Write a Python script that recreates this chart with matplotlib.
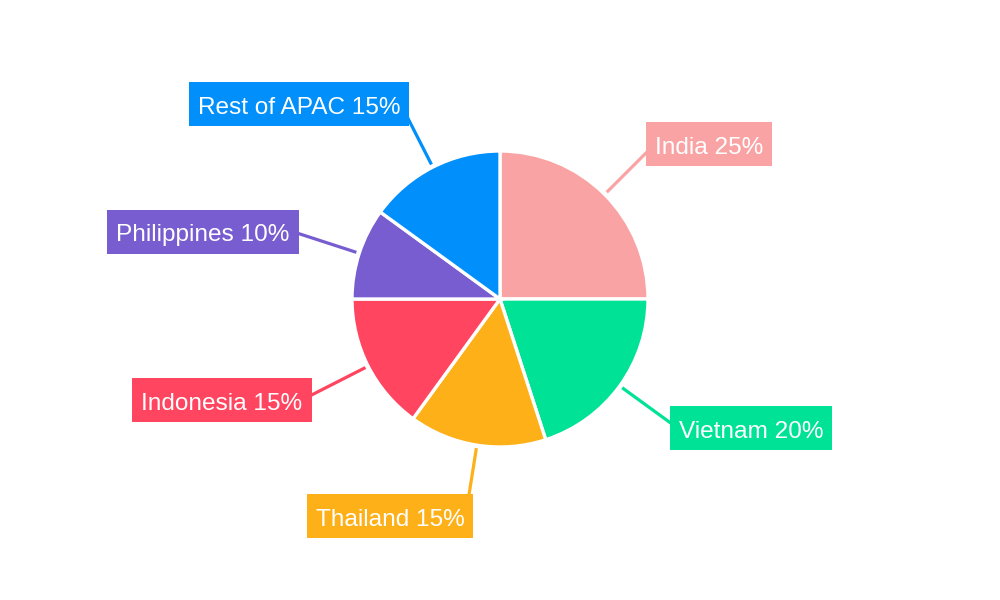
import numpy as np
import matplotlib
matplotlib.use("Agg")
import matplotlib.pyplot as plt
from matplotlib.patches import Rectangle

categories = ["India", "Vietnam", "Thailand", "Indonesia", "Philippines", "Rest of APAC"]
values = [25, 20, 15, 15, 10, 15]
colors = ["#F9A3A4", "#00E396", "#FEB019", "#FF4560", "#775DD0", "#008FFB"]

# layout: label box centres in pixel coordinates (x, y from top)
label_centres = [(709, 144), (751, 428), (390, 516), (222, 400), (203, 232), (299, 104)]

W, H = 1000, 600
fig = plt.figure(figsize=(10, 6), dpi=100)
ax = fig.add_axes([0, 0, 1, 1])
cx, cy, R = 500, H - 299, 148

wedges, _ = ax.pie(values, colors=colors, startangle=90, counterclock=False,
                   center=(cx, cy), radius=R,
                   wedgeprops=dict(edgecolor="white", linewidth=2.4))
ax.set_xlim(0, W)
ax.set_ylim(0, H)
ax.set_aspect("equal")
ax.axis("off")

texts = []
for w, cat, val, col, (lx, ly) in zip(wedges, categories, values, colors, label_centres):
    mid = np.deg2rad((w.theta1 + w.theta2) / 2)
    r0, r1 = 151, 215
    ax.plot([cx + r0 * np.cos(mid), cx + r1 * np.cos(mid)],
            [cy + r0 * np.sin(mid), cy + r1 * np.sin(mid)],
            color=col, lw=2.3, zorder=3, solid_capstyle="butt")
    t = ax.text(lx, H - ly - 1, f"{cat} {val}%", color="white", fontsize=17.6,
                family=["Liberation Sans", "DejaVu Sans"], ha="center", va="center_baseline",
                zorder=6)
    texts.append((t, col, lx, ly))

fig.canvas.draw()
renderer = fig.canvas.get_renderer()
for t, col, lx, ly in texts:
    bb = t.get_window_extent(renderer)
    bw = bb.width + 18
    bh = 44
    ax.add_patch(Rectangle((lx - bw / 2, H - ly - bh / 2), bw, bh, facecolor=col,
                           edgecolor="none", zorder=5))

fig.savefig("out.png", dpi=100, facecolor="white")
